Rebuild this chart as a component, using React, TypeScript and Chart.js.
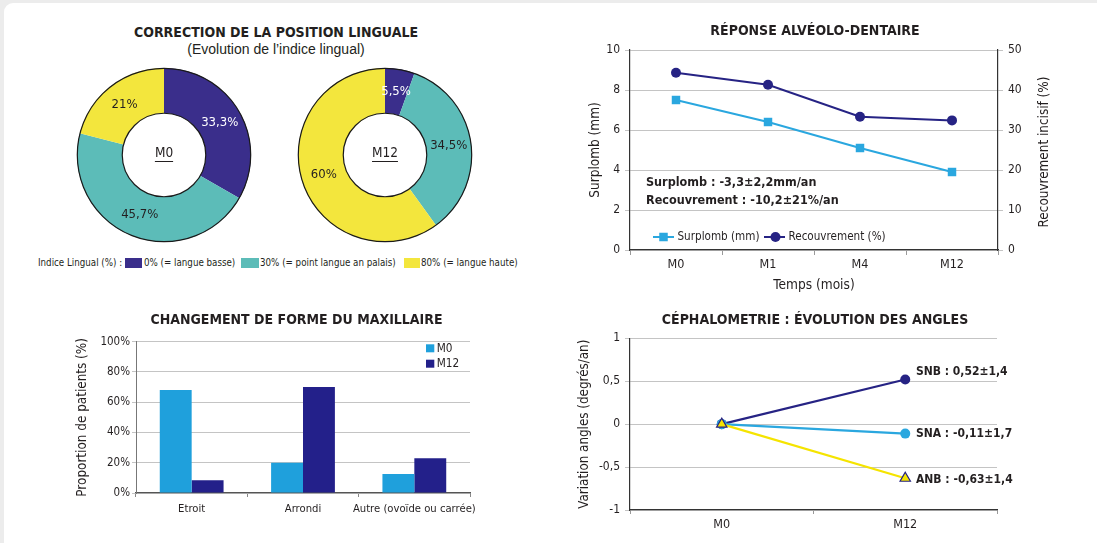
import React, { useEffect, useRef } from 'react';
import { Chart, registerables } from 'chart.js';

Chart.register(...registerables);

const NARROW = '"DejaVu Sans Condensed", "Liberation Sans Narrow", sans-serif';
const WIDE = '"Liberation Sans", Arial, sans-serif';
const TEXT = '#231f20';
const GRID = '#c4c4c4';
const AXIS = '#333333';

// ---------- Data ----------
const indiceLabels = ['0% (= langue basse)', '30% (= point langue an palais)', '80% (= langue haute)'];
const indiceColors = ['#3a2e8b', '#5cbcb8', '#f3e63d'];
const indiceM0 = [33.3, 45.7, 21];
const indiceM12 = [5.5, 34.5, 60];
const indiceM0Text = ['33,3%', '45,7%', '21%'];
const indiceM12Text = ['5,5%', '34,5%', '60%'];
const indiceTextColors = ['#ffffff', TEXT, TEXT];

const temps = ['M0', 'M1', 'M4', 'M12'];
const surplomb = [7.5, 6.4, 5.1, 3.9];
const recouvrement = [44.3, 41.3, 33.3, 32.4];
const alveoloNotes = ['Surplomb : -3,3±2,2mm/an', 'Recouvrement : -10,2±21%/an'];

const formes = ['Etroit', 'Arrondi', 'Autre (ovoïde ou carrée)'];
const formeM0 = [68, 20, 12.5];
const formeM12 = [8.5, 70, 23];

const cephTemps = ['M0', 'M12'];
const snb = [0, 0.52];
const sna = [0, -0.11];
const anb = [0, -0.63];
const cephNotes = ['SNB : 0,52±1,4', 'SNA : -0,11±1,7', 'ANB : -0,63±1,4'];

Chart.defaults.font.family = NARROW;
Chart.defaults.color = TEXT;

// ---------- Chart host ----------
function ChartBox(props: { left: number; top: number; width: number; height: number; config: () => any }) {
  const ref = useRef<HTMLCanvasElement>(null);
  useEffect(() => {
    const chart = new Chart(ref.current as HTMLCanvasElement, props.config());
    return () => chart.destroy();
  }, []);
  return (
    <canvas
      ref={ref}
      width={props.width}
      height={props.height}
      style={{ position: 'absolute', left: props.left, top: props.top, width: props.width, height: props.height }}
    />
  );
}

const baseOptions = {
  responsive: false,
  animation: false,
  devicePixelRatio: 1,
  events: [],
};

// invisible right-hand spacer axis (keeps the title centred on the canvas)
const spacerAxis = (w: number) => ({
  type: 'linear',
  position: 'right',
  display: true,
  grid: { display: false },
  border: { display: false },
  ticks: { display: false },
  afterFit: (s: any) => { s.width = w; },
});

const titleFont = { family: NARROW, size: 14, weight: 'bold' };

// ---------- Doughnuts ----------
function donutConfig(values: number[], texts: string[], center: string) {
  return {
    type: 'doughnut',
    data: {
      labels: indiceLabels,
      datasets: [{ data: values, backgroundColor: indiceColors, borderWidth: 0 }],
    },
    options: {
      ...baseOptions,
      cutout: '48%',
      layout: { padding: 3 },
      plugins: { legend: { display: false }, tooltip: { enabled: false }, title: { display: false } },
    },
    plugins: [
      {
        id: 'donutDeco',
        afterDatasetsDraw(chart: any) {
          const ctx = chart.ctx;
          const meta = chart.getDatasetMeta(0);
          const a0 = meta.data[0];
          const { x, y, outerRadius, innerRadius } = a0.getProps(['x', 'y', 'outerRadius', 'innerRadius'], true);
          ctx.save();
          ctx.strokeStyle = '#1a1a1a';
          ctx.lineWidth = 1.2;
          ctx.beginPath();
          ctx.arc(x, y, outerRadius - 0.3, 0, Math.PI * 2);
          ctx.stroke();
          ctx.beginPath();
          ctx.arc(x, y, innerRadius, 0, Math.PI * 2);
          ctx.stroke();
          ctx.font = `13px ${NARROW}`;
          ctx.textAlign = 'center';
          ctx.textBaseline = 'middle';
          meta.data.forEach((arc: any, i: number) => {
            const p = arc.tooltipPosition(true);
            ctx.fillStyle = indiceTextColors[i];
            ctx.fillText(texts[i], p.x, p.y);
          });
          ctx.fillStyle = TEXT;
          ctx.font = `13.5px ${NARROW}`;
          ctx.fillText(center, x, y - 2);
          const w = ctx.measureText(center).width;
          ctx.strokeStyle = TEXT;
          ctx.lineWidth = 1;
          ctx.beginPath();
          ctx.moveTo(x - w / 2, y + 6.5);
          ctx.lineTo(x + w / 2, y + 6.5);
          ctx.stroke();
          ctx.restore();
        },
      },
    ],
  };
}

// ---------- Réponse alvéolo-dentaire ----------
function alveoloConfig() {
  return {
    type: 'line',
    data: {
      labels: temps,
      datasets: [
        {
          label: 'Surplomb (mm)',
          data: surplomb,
          yAxisID: 'y',
          borderColor: '#2aa7df',
          backgroundColor: '#2aa7df',
          pointStyle: 'rect',
          pointRadius: 6,
          pointBorderWidth: 0,
          borderWidth: 2,
        },
        {
          label: 'Recouvrement (%)',
          data: recouvrement,
          yAxisID: 'y1',
          borderColor: '#262384',
          backgroundColor: '#262384',
          pointStyle: 'circle',
          pointRadius: 5,
          pointBorderWidth: 0,
          borderWidth: 2,
        },
      ],
    },
    options: {
      ...baseOptions,
      layout: { padding: 0 },
      plugins: {
        legend: { display: false },
        tooltip: { enabled: false },
        title: {
          display: true,
          text: 'RÉPONSE ALVÉOLO-DENTAIRE',
          font: titleFont,
          color: TEXT,
          padding: { top: 22.6, bottom: 10.6 },
        },
      },
      scales: {
        x: {
          offset: true,
          grid: { offset: true, drawOnChartArea: false, tickLength: 5, color: '#9a9a9a' },
          border: { color: AXIS, width: 1.2 },
          ticks: { font: { size: 12.5 }, padding: 2, color: TEXT },
          title: { display: true, text: 'Temps (mois)', font: { size: 13.6 }, color: TEXT, padding: { top: 0, bottom: 6.8 } },
          afterFit: (s: any) => { s.height = 50; },
        },
        y: {
          position: 'left',
          min: 0,
          max: 10,
          ticks: { stepSize: 2, padding: 5, font: { size: 12 }, color: TEXT },
          grid: { color: GRID, tickLength: 5 },
          border: { color: AXIS, width: 1.2 },
          title: { display: true, text: 'Surplomb (mm)', font: { size: 13.5 }, color: TEXT, padding: { top: 22.3, bottom: 0 } },
          afterFit: (s: any) => { s.width = 65; },
        },
        y1: {
          position: 'right',
          min: 0,
          max: 50,
          ticks: { stepSize: 10, padding: 5, font: { size: 12 }, color: TEXT },
          grid: { drawOnChartArea: false, tickLength: 5, color: GRID },
          border: { color: AXIS, width: 1.2 },
          title: { display: false, text: 'Recouvrement incisif (%)' },
          afterFit: (s: any) => { s.width = 67; },
        },
      },
    },
    plugins: [
      {
        id: 'alveoloDeco',
        afterDraw(chart: any) {
          const { ctx, chartArea: a, scales } = chart;
          const r = scales.y1;
          ctx.save();
          ctx.translate(r.right - 20, (a.top + a.bottom) / 2 + 2);
          ctx.rotate(-Math.PI / 2);
          ctx.font = `13.4px ${NARROW}`;
          ctx.fillStyle = TEXT;
          ctx.textAlign = 'center';
          ctx.textBaseline = 'middle';
          ctx.fillText(r.options.title.text, 0, 0);
          ctx.restore();

          ctx.save();
          ctx.font = `bold 12.5px ${NARROW}`;
          ctx.textAlign = 'left';
          ctx.textBaseline = 'middle';
          ctx.fillStyle = TEXT;
          alveoloNotes.forEach((t, i) => ctx.fillText(t, a.left + 16, a.top + 133 + i * 18));

          let x = a.left + 23;
          const y = a.bottom - 13;
          ctx.font = `11.6px ${NARROW}`;
          chart.data.datasets.forEach((ds: any) => {
            ctx.strokeStyle = ds.borderColor;
            ctx.lineWidth = 2;
            ctx.beginPath();
            ctx.moveTo(x, y);
            ctx.lineTo(x + 21, y);
            ctx.stroke();
            ctx.fillStyle = ds.backgroundColor;
            if (ds.pointStyle === 'rect') {
              ctx.fillRect(x + 10.5 - 4.25, y - 4.25, 8.5, 8.5);
            } else {
              ctx.beginPath();
              ctx.arc(x + 11.5, y, 5, 0, Math.PI * 2);
              ctx.fill();
            }
            ctx.fillStyle = TEXT;
            ctx.fillText(ds.label, x + 24.5, y);
            x += 24.5 + ctx.measureText(ds.label).width + 4.5;
          });
          ctx.restore();
        },
      },
    ],
  };
}

// ---------- Forme du maxillaire ----------
function formeConfig() {
  return {
    type: 'bar',
    data: {
      labels: formes,
      datasets: [
        { label: 'M0', data: formeM0, backgroundColor: '#1fa0dc', categoryPercentage: 0.573, barPercentage: 1 },
        { label: 'M12', data: formeM12, backgroundColor: '#23208a', categoryPercentage: 0.573, barPercentage: 1 },
      ],
    },
    options: {
      ...baseOptions,
      layout: { padding: 0 },
      plugins: {
        legend: { display: false },
        tooltip: { enabled: false },
        title: {
          display: true,
          text: 'CHANGEMENT DE FORME DU MAXILLAIRE',
          font: titleFont,
          color: TEXT,
          padding: { top: 22.1, bottom: 12.8 },
        },
      },
      scales: {
        x: {
          grid: { offset: true, drawOnChartArea: false, tickLength: 4, color: '#888' },
          border: { color: '#555', width: 1.2 },
          ticks: { font: { size: 11.2 }, padding: 5.5, color: TEXT, maxRotation: 0, minRotation: 0, autoSkip: false },
          afterFit: (s: any) => { s.height = 50; },
        },
        y: {
          min: 0,
          max: 100,
          ticks: { stepSize: 20, padding: 2, font: { size: 11.5 }, color: TEXT, callback: (v: any) => v + '%' },
          grid: { color: GRID, tickLength: 4 },
          border: { color: '#777', width: 1 },
          title: { display: true, text: 'Proportion de patients (%)', font: { size: 13.4 }, color: TEXT, padding: { top: 24.3, bottom: 0 } },
          afterFit: (s: any) => { s.width = 86; },
        },
        pad: spacerAxis(73),
      },
    },
    plugins: [
      {
        id: 'formeLegend',
        afterDraw(chart: any) {
          const { ctx, chartArea: a } = chart;
          ctx.save();
          ctx.font = `11.7px ${NARROW}`;
          ctx.textAlign = 'left';
          ctx.textBaseline = 'middle';
          chart.data.datasets.forEach((ds: any, i: number) => {
            const y = a.top + 6.6 + i * 15.4;
            ctx.fillStyle = ds.backgroundColor;
            ctx.fillRect(a.right - 44, y - 4, 8.3, 8);
            ctx.fillStyle = TEXT;
            ctx.fillText(ds.label, a.right - 33.3, y + 0.5);
          });
          ctx.restore();
        },
      },
    ],
  };
}

// ---------- Céphalométrie ----------
function cephConfig() {
  return {
    type: 'line',
    data: {
      labels: cephTemps,
      datasets: [
        {
          label: 'SNB',
          data: snb,
          order: 2,
          borderColor: '#262384',
          backgroundColor: '#262384',
          pointStyle: 'circle',
          pointRadius: 5,
          pointBorderWidth: 0,
          borderWidth: 2.2,
        },
        {
          label: 'SNA',
          data: sna,
          order: 1,
          borderColor: '#2aa7df',
          backgroundColor: '#2aa7df',
          pointStyle: 'circle',
          pointRadius: 5,
          pointBorderWidth: 0,
          borderWidth: 2.2,
        },
        {
          label: 'ANB',
          data: anb,
          order: 0,
          borderColor: '#f5e400',
          backgroundColor: '#f5e400',
          pointBorderColor: '#262384',
          pointStyle: 'triangle',
          pointRadius: 6,
          pointBorderWidth: 1.2,
          borderWidth: 2.2,
        },
      ],
    },
    options: {
      ...baseOptions,
      layout: { padding: 0 },
      plugins: {
        legend: { display: false },
        tooltip: { enabled: false },
        title: {
          display: true,
          text: 'CÉPHALOMETRIE : ÉVOLUTION DES ANGLES',
          font: titleFont,
          color: TEXT,
          padding: { top: 22.1, bottom: 9.4 },
        },
      },
      scales: {
        x: {
          offset: true,
          grid: { offset: true, drawOnChartArea: false, tickLength: 4, color: '#999' },
          border: { color: AXIS, width: 1.2 },
          ticks: { font: { size: 12.5 }, padding: 3.5, color: TEXT },
          afterFit: (s: any) => { s.height = 33; },
        },
        y: {
          min: -1,
          max: 1,
          ticks: { stepSize: 0.5, padding: 5, font: { size: 12 }, color: TEXT, callback: (v: any) => String(v).replace('.', ',') },
          grid: { color: GRID, tickLength: 5 },
          border: { color: AXIS, width: 1.2 },
          title: { display: true, text: 'Variation angles (degrés/an)', font: { size: 13.3 }, color: TEXT, padding: { top: 11.8, bottom: 0 } },
          afterFit: (s: any) => { s.width = 65; },
        },
        pad: spacerAxis(68),
      },
    },
    plugins: [
      {
        id: 'cephNotes',
        afterDraw(chart: any) {
          const { ctx } = chart;
          const dy = [-7.5, 0.7, 1.8];
          ctx.save();
          ctx.font = `bold 12px ${NARROW}`;
          ctx.textAlign = 'left';
          ctx.textBaseline = 'middle';
          ctx.fillStyle = TEXT;
          chart.data.datasets.forEach((ds: any, i: number) => {
            const meta = chart.getDatasetMeta(i);
            const pt = meta.data[meta.data.length - 1];
            ctx.fillText(cephNotes[i], pt.x + 10.7, pt.y + dy[i]);
          });
          ctx.restore();
        },
      },
    ],
  };
}

// ---------- App ----------
export default function App() {
  const legendText: React.CSSProperties = {
    position: 'absolute',
    top: 256,
    font: `9.7px ${NARROW}`,
    lineHeight: '14px',
    color: TEXT,
    whiteSpace: 'nowrap',
  };
  const box = (left: number, width: number, color: string): React.CSSProperties => ({
    position: 'absolute',
    left,
    top: 258,
    width,
    height: 10,
    background: color,
  });
  return (
    <div
      style={{
        position: 'absolute',
        left: 0,
        top: 0,
        width: 1097,
        height: 543,
        overflow: 'hidden',
        background: '#ececec',
        fontFamily: NARROW,
        color: TEXT,
      }}
    >
      <div style={{ position: 'absolute', left: 4, top: 3, width: 1200, height: 600, background: '#ffffff', borderTopLeftRadius: 9 }} />

      <div
        style={{
          position: 'absolute',
          left: 0,
          top: 22,
          width: 552,
          textAlign: 'center',
          font: `bold 14px ${NARROW}`,
          lineHeight: '20px',
          color: TEXT,
        }}
      >
        CORRECTION DE LA POSITION LINGUALE
      </div>
      <div
        style={{
          position: 'absolute',
          left: 0,
          top: 40,
          width: 552,
          textAlign: 'center',
          font: `14px ${WIDE}`,
          lineHeight: '18px',
          color: TEXT,
        }}
      >
        (Evolution de l’indice lingual)
      </div>

      <ChartBox left={74} top={65} width={180} height={180} config={() => donutConfig(indiceM0, indiceM0Text, 'M0')} />
      <ChartBox left={295} top={65} width={180} height={180} config={() => donutConfig(indiceM12, indiceM12Text, 'M12')} />

      <div style={{ ...legendText, left: 38 }}>Indice Lingual (%) :</div>
      <div style={box(125, 17, indiceColors[0])} />
      <div style={{ ...legendText, left: 144 }}>{indiceLabels[0]}</div>
      <div style={box(241, 18, indiceColors[1])} />
      <div style={{ ...legendText, left: 260 }}>{indiceLabels[1]}</div>
      <div style={box(404, 16, indiceColors[2])} />
      <div style={{ ...legendText, left: 421 }}>{indiceLabels[2]}</div>

      <ChartBox left={565} top={0} width={500} height={300} config={alveoloConfig} />
      <ChartBox left={50} top={290} width={493} height={253} config={formeConfig} />
      <ChartBox left={565} top={290} width={500} height={253} config={cephConfig} />
    </div>
  );
}
